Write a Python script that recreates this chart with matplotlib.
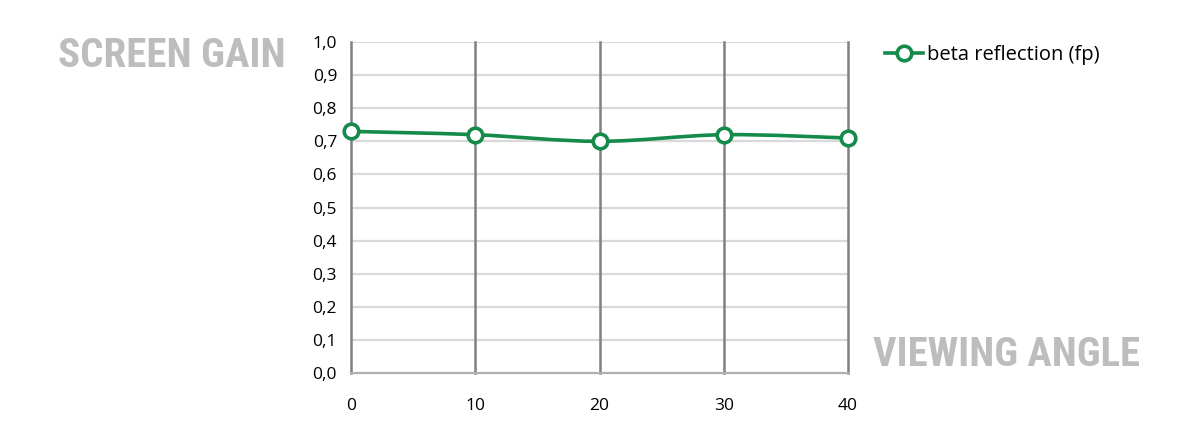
import matplotlib.pyplot as plt
from matplotlib.path import Path
from matplotlib.patches import PathPatch
from matplotlib import font_manager

angles = [0, 10, 20, 30, 40]
gain = [0.73, 0.72, 0.70, 0.72, 0.71]
yticks = [0.0, 0.1, 0.2, 0.3, 0.4, 0.5, 0.6, 0.7, 0.8, 0.9, 1.0]
green = '#148a4b'

plt.rcParams['font.family'] = ['Open Sans', 'DejaVu Sans']

# pick a narrow font for the big grey labels if one is there
installed = {f.name for f in font_manager.fontManager.ttflist}
narrow = 'DejaVu Sans'
for name in ['Roboto Condensed', 'Liberation Sans Narrow', 'Open Sans Condensed',
             'Noto Sans Condensed', 'DejaVu Sans Condensed']:
    if name in installed:
        narrow = name
        break

fig = plt.figure(figsize=(12, 4.47), dpi=100)
ax = fig.add_axes([0.2925, 0.1655, 0.4142, 0.7405])

# smoothed line (catmull-rom -> bezier), like excel's smoothed line
verts = [(angles[0], gain[0])]
codes = [Path.MOVETO]
n = len(angles)
for i in range(n - 1):
    p0 = (angles[max(i - 1, 0)], gain[max(i - 1, 0)])
    p1 = (angles[i], gain[i])
    p2 = (angles[i + 1], gain[i + 1])
    p3 = (angles[min(i + 2, n - 1)], gain[min(i + 2, n - 1)])
    c1 = (p1[0] + (p2[0] - p0[0]) / 6, p1[1] + (p2[1] - p0[1]) / 6)
    c2 = (p2[0] - (p3[0] - p1[0]) / 6, p2[1] - (p3[1] - p1[1]) / 6)
    verts += [c1, c2, p2]
    codes += [Path.CURVE4] * 3
ax.add_patch(PathPatch(Path(verts, codes), fill=False, edgecolor=green,
                       linewidth=2.6, zorder=3))
ax.plot(angles, gain, linestyle='none', marker='o', markersize=10.5,
        markerfacecolor='white', markeredgecolor=green, markeredgewidth=2.6,
        zorder=4, clip_on=False)

ax.set_xlim(0, 40)
ax.set_ylim(0, 1.0)
ax.set_xticks(angles)
ax.set_yticks(yticks)
ax.set_yticklabels([('%.1f' % v).replace('.', ',') for v in yticks])
ax.tick_params(length=0, labelsize=12.5)
ax.tick_params(axis='y', pad=10)
ax.tick_params(axis='x', pad=18)

for v in yticks[1:]:
    ax.axhline(v, color='#d9d9d9', linewidth=1.6, zorder=1)
for a in angles:
    ax.axvline(a, color='#808080', linewidth=1.8, zorder=2, clip_on=False)
for s in ['top', 'right', 'left']:
    ax.spines[s].set_visible(False)
ax.spines['bottom'].set_color('#b0b0b0')
ax.spines['bottom'].set_linewidth(1.6)

# legend
fig.legend(handles=[plt.Line2D([], [], color=green, linewidth=2.6, marker='o',
                               markersize=10.5, markerfacecolor='white',
                               markeredgecolor=green, markeredgewidth=2.6)],
           labels=['beta reflection (fp)'], loc='center left',
           bbox_to_anchor=(0.722, 0.877), frameon=False, fontsize=14.5,
           handlelength=1.9, handletextpad=0.2)

title_kw = dict(fontsize=36, fontweight='bold', color='#bdbdbd',
                family=[narrow, 'DejaVu Sans'], fontstretch='condensed')
t1 = fig.text(0.048, 0.875, 'SCREEN GAIN', ha='left', va='center', **title_kw)
t2 = fig.text(0.7275, 0.205, 'VIEWING ANGLE', ha='left', va='center', **title_kw)

# shrink the grey labels to the widths they take in the reference
renderer = fig.canvas.get_renderer()
for t, width_px in [(t1, 227), (t2, 267)]:
    w = t.get_window_extent(renderer).width
    if w > width_px:
        t.set_fontsize(36 * width_px / w)

fig.savefig('out.png', dpi=100)
